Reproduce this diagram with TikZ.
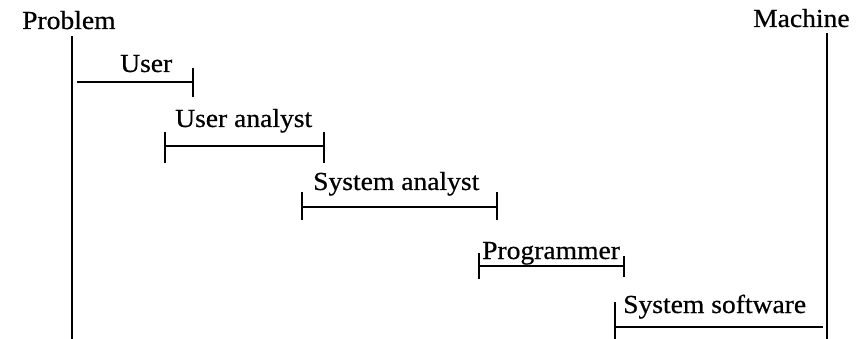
\documentclass[tikz,border=0pt]{standalone}
\usepackage{fontspec}
\setmainfont{Liberation Serif}[FakeStretch=1.06,FakeBold=0.6]
\begin{document}
\begin{tikzpicture}[x=1pt,y=-1pt,
  lbl/.style={anchor=base west, inner sep=0pt, font=\fontsize{26}{30}\selectfont},
  rule/.style={line width=1.7pt, line cap=butt}]
\useasboundingbox (0,0) rectangle (862,339);

% end points of the spectrum
\node[lbl] (prob) at (22,29) {Problem};
\node[lbl] (mach) at (753,27) {Machine};
\coordinate (probTop) at (72,36);
\coordinate (probBot) at (72,339);
\coordinate (machTop) at (827,33);
\coordinate (machBot) at (827,339);
\draw[rule] (probTop) -- (probBot);
\draw[rule] (machTop) -- (machBot);

% User
\node[lbl] (user) at (120,72) {User};
\coordinate (u1) at (77,82);
\coordinate (u2) at (193,82);
\draw[rule] (u1) -- (u2);
\draw[rule] (193,68) -- (193,97);

% User analyst
\node[lbl] (ua) at (175,127) {User analyst};
\coordinate (ua1) at (165,146);
\coordinate (ua2) at (324,146);
\draw[rule] (ua1) -- (ua2);
\draw[rule] (165,132) -- (165,163);
\draw[rule] (324,132) -- (324,163);

% System analyst
\node[lbl] (sa) at (313,190) {System analyst};
\coordinate (sa1) at (302,207);
\coordinate (sa2) at (497,207);
\draw[rule] (sa1) -- (sa2);
\draw[rule] (302,192) -- (302,220);
\draw[rule] (497,192) -- (497,220);

% Programmer
\node[lbl] (prog) at (482,259) {Programmer};
\coordinate (pr1) at (479,266);
\coordinate (pr2) at (624,266);
\draw[rule] (pr1) -- (pr2);
\draw[rule] (479,253) -- (479,279);
\draw[rule] (624,256) -- (624,277);

% System software
\node[lbl] (ss) at (623,313) {System software};
\coordinate (ss1) at (615,327);
\coordinate (ss2) at (823,327);
\draw[rule] (ss1) -- (ss2);
\draw[rule] (615,302) -- (615,339);
\end{tikzpicture}
\end{document}
